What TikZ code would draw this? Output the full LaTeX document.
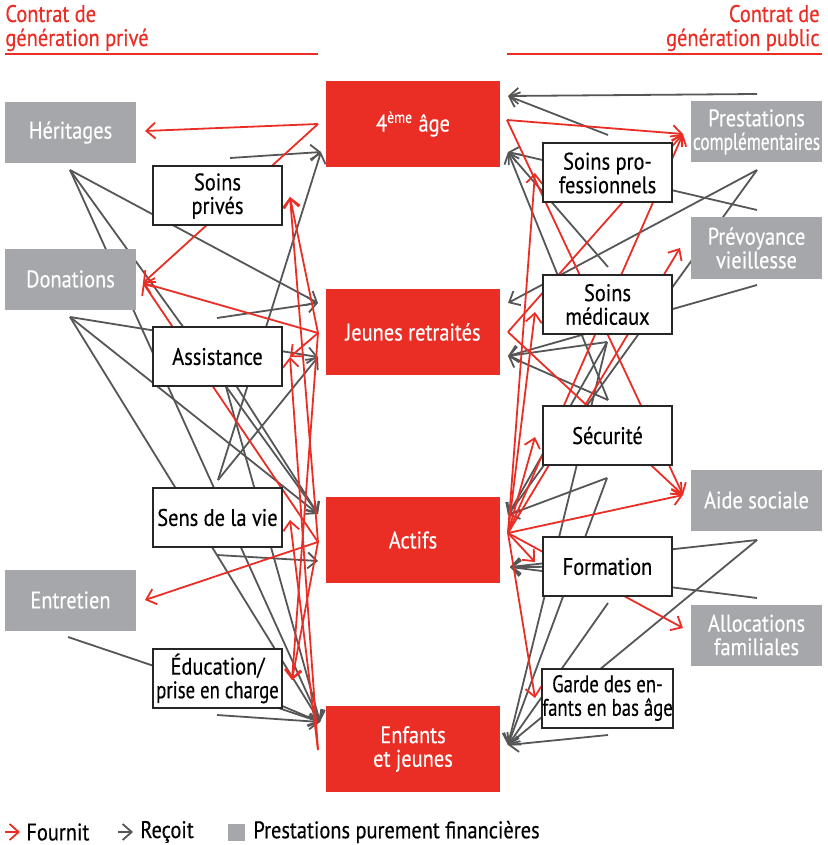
\documentclass[tikz,border=0pt]{standalone}
\usepackage{fontspec}
\setmainfont{PT Sans}[FakeStretch=0.85,FakeBold=0.4]
\newfontfamily\narrowfont{PT Sans}[FakeStretch=0.72,FakeBold=0.4]
\newfontfamily\condfont{PT Sans}[FakeStretch=0.78,FakeBold=0.4]
\usetikzlibrary{arrows.meta,backgrounds}
\definecolor{genred}{RGB}{234,46,37}
\definecolor{cashgray}{RGB}{166,167,171}
\definecolor{linegray}{RGB}{85,86,88}

\begin{document}
\begin{tikzpicture}[x=0.5pt,y=-0.5pt,
    every node/.style={font=\fontsize{12}{11.8}\selectfont,inner sep=0pt,align=center},
    gen/.style={fill=genred,text=white,minimum width=87pt,minimum height=43pt},
    cash/.style={fill=cashgray,text=white,minimum width=65.5pt,minimum height=30.5pt},
    serv/.style={draw=black!85,line width=1pt,fill=white,minimum width=64.5pt,minimum height=29.5pt},
    gives/.style={genred,line width=0.9pt,-{Straight Barb[length=4.5pt,width=8pt]}},
    gets/.style={linegray,line width=0.9pt,-{Straight Barb[length=4.5pt,width=8pt]}}
    ]
    \useasboundingbox (0,0) rectangle (827,845);

    % headers
    \node[anchor=base west,text=genred] (hdl1) at (5,22) {Contrat de};
    \node[anchor=base west,text=genred] (hdl2) at (5,46) {génération privé};
    \node[anchor=base east,text=genred] (hdr1) at (820,22) {Contrat de};
    \node[anchor=base east,text=genred] (hdr2) at (820,46) {génération public};
    \draw[genred,line width=0.6pt] (5,54) -- (318,54);
    \draw[genred,line width=0.6pt] (507,54) -- (822,54);

    % generations
    \node[gen] (qa) at (413,124) {4\textsuperscript{ème} âge};
    \node[gen] (jr) at (413,332) {Jeunes retraités};
    \node[gen] (ac) at (413,540) {Actifs};
    \node[gen] (ej) at (413,749) {Enfants\\et jeunes};

    % purely financial transfers
    \node[cash] (her) at (70.5,132.5) {Héritages};
    \node[cash] (don) at (70.5,279) {Donations};
    \node[cash] (ent) at (70.5,600) {Entretien};
    \node[cash] (pc) at (756.5,132) {Prestations\\{\narrowfont complémentaires}};
    \node[cash] (pv) at (756.5,248) {Prévoyance\\vieillesse};
    \node[cash] (aide) at (756.5,500) {Aide sociale};
    \node[cash] (af) at (756.5,635) {Allocations\\familiales};

    % services
    \node[serv] (sp) at (217.5,196) {Soins\\privés};
    \node[serv] (as) at (217.5,356.5) {Assistance};
    \node[serv] (sv) at (217.5,517.5) {Sens de la vie};
    \node[serv] (ed) at (217.5,678.5) {Éducation/\\{\condfont prise en charge}};
    \node[serv] (spro) at (607.5,173) {Soins pro-\\fessionnels};
    \node[serv] (sm) at (607.5,304.5) {Soins\\médicaux};
    \node[serv] (se) at (607.5,435.5) {Sécurité};
    \node[serv] (fo) at (607.5,566.5) {Formation};
    \node[serv,font=\condfont\fontsize{12}{11.8}\selectfont] (ga) at (607.5,698) {Garde des en-\\fants en bas âge};

    % ports on the generation boxes
    \coordinate (qaOL) at (318,124);  \coordinate (qaIL) at (321,152);
    \coordinate (jrIL1) at (318,303); \coordinate (jrOL) at (318,333); \coordinate (jrIL2) at (318,357);
    \coordinate (acIL1) at (318,514); \coordinate (acOL) at (318,542); \coordinate (acIL2) at (318,561);
    \coordinate (ejIL) at (320,722);  \coordinate (ejOL) at (318,750);
    \coordinate (qaIR1) at (508,96);  \coordinate (qaOR) at (507,120); \coordinate (qaIR2) at (508,152);
    \coordinate (jrIR1) at (508,303); \coordinate (jrOR) at (508,332); \coordinate (jrIR2) at (508,356);
    \coordinate (acIR1) at (508,515); \coordinate (acOR) at (508,533); \coordinate (acIR2) at (510,567);
    \coordinate (ejIR) at (508,745);

    % hubs and tips, private side
    \coordinate (herH) at (70,170);  \coordinate (donH) at (70,317); \coordinate (entH) at (68,637);
    \coordinate (spH) at (230,158);  \coordinate (asH) at (217,318); \coordinate (svH1) at (218,480);
    \coordinate (svH2) at (217,555); \coordinate (edH) at (217,715);
    \coordinate (herT) at (145,131); \coordinate (donT) at (143,283); \coordinate (entT) at (145,600);
    \coordinate (spT) at (290,197);  \coordinate (asT) at (290,357); \coordinate (svT) at (290,520);
    \coordinate (edT) at (292,680);

    % hubs and tips, public side
    \coordinate (pcH1) at (757,94);  \coordinate (pcH2) at (757,170);
    \coordinate (pvH1) at (757,210); \coordinate (pvH2) at (757,285);
    \coordinate (aideH) at (757,540); \coordinate (afH) at (757,598);
    \coordinate (sproH) at (608,135); \coordinate (smH1) at (608,267); \coordinate (smH2) at (607,342);
    \coordinate (seH1) at (608,400); \coordinate (seH2) at (607,478);
    \coordinate (foH) at (608,603); \coordinate (gaH) at (608,735);
    \coordinate (pcT) at (683,134); \coordinate (pvT) at (680,248); \coordinate (aideT) at (683,495);
    \coordinate (afT) at (683,628);
    \coordinate (sproT) at (535,173); \coordinate (smT) at (535,312); \coordinate (seT) at (535,437);
    \coordinate (foT) at (535,562); \coordinate (gaT) at (535,698);

    \begin{pgfonlayer}{background}
    % private side, received
    \foreach \t in {jrIL1,acIL1,ejIL} \draw[gets] (herH) -- (\t);
    \foreach \t in {jrIL2,acIL1,ejIL} \draw[gets] (donH) -- (\t);
    \draw[gets] (entH) -- (ejIL);
    \draw[gets] (spH) -- (qaIL);
    \draw[gets] (asH) -- (jrIL1);
    \foreach \t in {acIL1,ejIL} \draw[gets] (as.center) -- (\t);
    \foreach \t in {qaIL,jrIL2} \draw[gets] (svH1) -- (\t);
    \draw[gets] (svH2) -- (acIL2);
    \draw[gets] (edH) -- (ejIL);
    \draw[gets] (ed.center) -- (ejIL);
    % private side, provided
    \foreach \t in {herT,donT} \draw[gives] (qaOL) -- (\t);
    \foreach \t in {donT,spT,asT,edT} \draw[gives] (jrOL) -- (\t);
    \foreach \t in {donT,entT,spT,edT} \draw[gives] (acOL) -- (\t);
    \foreach \t in {svT,asT} \draw[gives] (ejOL) -- (\t);

    % public side, received
    \foreach \s in {pcH1,sproH} \draw[gets] (\s) -- (qaIR1);
    \foreach \s in {pvH1,smH1,seH1} \draw[gets] (\s) -- (qaIR2);
    \draw[gets] (pcH2) -- (jrIR1);
    \foreach \s in {pvH2,smH2,seH1} \draw[gets] (\s) -- (jrIR2);
    \foreach \s in {pcH2,smH2,seH2} \draw[gets] (\s) -- (acIR1);
    \foreach \s in {aideH,afH,fo.center} \draw[gets] (\s) -- (acIR2);
    \foreach \s in {smH2,seH2,foH,aideH,gaH} \draw[gets] (\s) -- (ejIR);
    % public side, provided
    \foreach \t in {pcT,aideT} \draw[gives] (qaOR) -- (\t);
    \foreach \t in {pcT,aideT} \draw[gives] (jrOR) -- (\t);
    \foreach \t in {pcT,pvT,aideT,afT,sproT,smT,seT,foT,gaT} \draw[gives] (acOR) -- (\t);
    \end{pgfonlayer}

    % legend
    \coordinate (lgA1) at (5,832);   \coordinate (lgA2) at (20,832);
    \coordinate (lgB1) at (118,832); \coordinate (lgB2) at (133,832);
    \draw[gives] (lgA1) -- (lgA2);
    \node[anchor=west] (lgA) at (26,832) {Fournit};
    \draw[gets] (lgB1) -- (lgB2);
    \node[anchor=west] (lgB) at (140,832) {Reçoit};
    \node[fill=cashgray,minimum size=8.5pt] (lgsq) at (236.5,832) {};
    \node[anchor=west] (lgC) at (253,832) {Prestations purement financières};
\end{tikzpicture}
\end{document}
